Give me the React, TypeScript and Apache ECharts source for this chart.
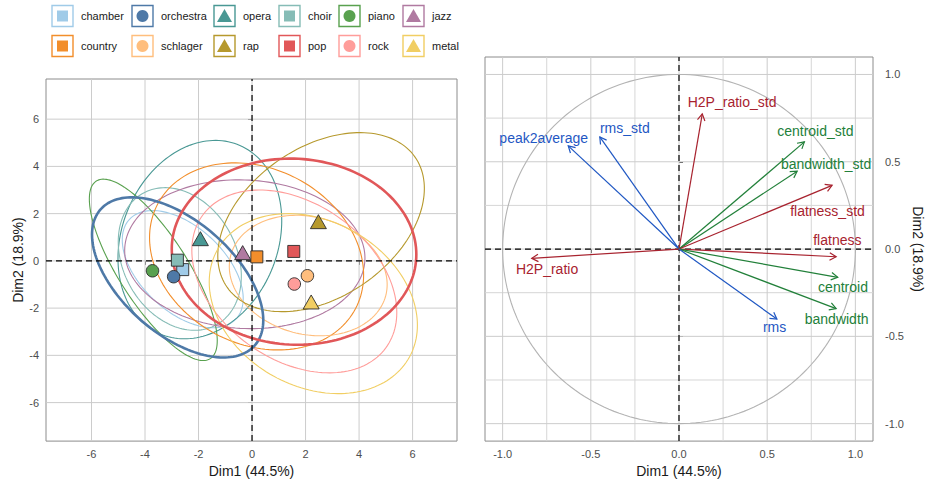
import React, { useEffect, useRef } from 'react';
import * as echarts from 'echarts';

// ---------- Individuals (left panel) ----------
const genres = ['chamber', 'orchestra', 'opera', 'choir', 'piano', 'jazz', 'country', 'schlager', 'rap', 'pop', 'rock', 'metal'];
const genreColors = ['#A0CBE8', '#4E79A7', '#499894', '#86BCB6', '#59A14F', '#B07AA1', '#F28E2B', '#FFBE7D', '#B6992D', '#E15759', '#FF9D9A', '#F1CE63'];
const genreShapes = ['rect', 'circle', 'triangle', 'rect', 'circle', 'triangle', 'rect', 'circle', 'triangle', 'rect', 'circle', 'triangle'];
const meanDim1 = [-2.59, -2.93, -1.93, -2.79, -3.72, -0.35, 0.18, 2.07, 2.48, 1.56, 1.58, 2.21];
const meanDim2 = [-0.37, -0.67, 0.94, 0.03, -0.42, 0.35, 0.17, -0.63, 1.66, 0.40, -0.98, -1.74];
// ellipse: centre, half-extent along Dim1, half-extent along Dim2, correlation
const ellCx = [-2.59, -2.78, -1.95, -2.70, -3.69, -0.27, 0.17, 2.10, 2.58, 1.57, 1.58, 2.29];
const ellCy = [-0.35, -0.70, 0.90, 0.08, -0.38, 0.28, 0.19, -0.62, 1.64, 0.39, -0.87, -1.81];
const ellRx = [2.26, 3.20, 3.06, 2.30, 2.39, 4.49, 4.00, 2.95, 3.86, 4.57, 3.83, 3.89];
const ellRy = [2.48, 3.39, 4.20, 3.02, 3.84, 3.15, 3.96, 2.55, 3.79, 3.94, 3.87, 3.81];
const ellRho = [-0.50, -0.535, 0.19, -0.24, -0.78, -0.05, -0.20, -0.15, 0.376, -0.03, -0.34, -0.24];
const thickGenres = ['orchestra', 'pop'];
const leftTicks = [-6, -4, -2, 0, 2, 4, 6];
const leftXRange = [-7.7, 7.66];
const leftYRange = [-7.63, 7.7];

// ---------- Variables (right panel) ----------
const varNames = ['peak2average', 'rms_std', 'H2P_ratio', 'H2P_ratio_std', 'centroid_std', 'bandwidth_std', 'flatness_std', 'flatness', 'centroid', 'bandwidth', 'rms'];
const varDim1 = [-0.628, -0.449, -0.835, 0.132, 0.711, 0.670, 0.868, 0.891, 0.900, 0.891, 0.555];
const varDim2 = [0.591, 0.642, -0.053, 0.774, 0.614, 0.446, 0.365, -0.044, -0.162, -0.341, -0.401];
const varGroup = ['blue', 'blue', 'red', 'red', 'green', 'green', 'red', 'red', 'green', 'green', 'blue'];
const varLabelX = [-0.767, -0.307, -0.748, 0.301, 0.773, 0.834, 0.842, 0.898, 0.930, 0.894, 0.542];
const varLabelY = [0.638, 0.691, -0.115, 0.845, 0.676, 0.488, 0.218, 0.049, -0.219, -0.403, -0.445];
const rightTicks = [-1, -0.5, 0, 0.5, 1];
const rightMinorTicks = [-0.75, -0.25, 0.25, 0.75];
const rightRange = [-1.1, 1.1];

const groupColors: Record<string, string> = { blue: '#1F57C3', red: '#A8232F', green: '#22803A' };
const FONT = '"Liberation Sans", Arial, Helvetica, sans-serif';

// custom series drawing full-panel reference lines at given values
function refLineSeries(xi: number, values: number[], xr: number[], yr: number[], style: any, z: number) {
  const items: number[][] = [];
  values.forEach((v) => { items.push([v, yr[0], v, yr[1]]); items.push([xr[0], v, xr[1], v]); });
  return {
    type: 'custom', xAxisIndex: xi, yAxisIndex: xi, z, silent: true,
    encode: { x: [0, 2], y: [1, 3] },
    data: items,
    renderItem: (params: any, api: any) => {
      const a = api.coord([api.value(0), api.value(1)]);
      const b = api.coord([api.value(2), api.value(3)]);
      return { type: 'line', shape: { x1: a[0], y1: a[1], x2: b[0], y2: b[1] }, style: { ...style, fill: 'none' } };
    },
  };
}

function buildLegend() {
  const colX = [52, 132, 214, 279, 339, 403];
  const rowY = [16, 46];
  const els: any[] = [];
  genres.forEach((g, i) => {
    const x = colX[i % 6];
    const cy = rowY[Math.floor(i / 6)];
    const cx = x + 10.5;
    const color = genreColors[i];
    els.push({ type: 'rect', shape: { x, y: cy - 10.5, width: 21, height: 21 }, style: { fill: '#fff', stroke: color, lineWidth: 1.4 } });
    const shp = genreShapes[i];
    if (shp === 'rect') {
      els.push({ type: 'rect', shape: { x: cx - 5.5, y: cy - 5.5, width: 11, height: 11 }, style: { fill: color } });
    } else if (shp === 'circle') {
      els.push({ type: 'circle', shape: { cx, cy, r: 6 }, style: { fill: color } });
    } else {
      els.push({ type: 'polygon', shape: { points: [[cx, cy - 7], [cx - 7.5, cy + 6], [cx + 7.5, cy + 6]] }, style: { fill: color } });
    }
    els.push({ type: 'text', style: { text: g, x: x + 29, y: cy, fill: '#1a1a1a', font: `11px ${FONT}`, align: 'left', verticalAlign: 'middle' } });
  });
  return els;
}

const axisLabelBase = { color: '#4d4d4d', fontSize: 11, fontFamily: FONT };
const nameStyle = { color: '#1a1a1a', fontSize: 14, fontFamily: FONT };

export default function App() {
  const ref = useRef<HTMLDivElement>(null);
  useEffect(() => {
    if (!ref.current) return;
    const chart = echarts.init(ref.current, undefined, { renderer: 'svg' });
    const option: any = {
      animation: false,
      textStyle: { fontFamily: FONT },
      graphic: buildLegend(),
      grid: [
        { left: 46, top: 79, width: 411, height: 365, show: true, borderColor: '#8c8c8c', borderWidth: 1 },
        { left: 485, top: 57, width: 388, height: 387, show: true, borderColor: '#8c8c8c', borderWidth: 1 },
      ],
      xAxis: [
        {
          gridIndex: 0, type: 'value', min: leftXRange[0], max: leftXRange[1],
          axisLine: { show: false }, splitLine: { show: false },
          axisTick: { show: true, length: 4, lineStyle: { color: '#555' }, customValues: leftTicks },
          axisLabel: { ...axisLabelBase, margin: 7, customValues: leftTicks, formatter: (v: number) => String(v) },
          name: 'Dim1 (44.5%)', nameLocation: 'middle', nameGap: 20, nameTextStyle: nameStyle,
        },
        {
          gridIndex: 1, type: 'value', min: rightRange[0], max: rightRange[1],
          axisLine: { show: false }, splitLine: { show: false },
          axisTick: { show: true, length: 4, lineStyle: { color: '#555' }, customValues: rightTicks },
          axisLabel: { ...axisLabelBase, margin: 7, customValues: rightTicks, formatter: (v: number) => v.toFixed(1) },
          name: 'Dim1 (44.5%)', nameLocation: 'middle', nameGap: 20, nameTextStyle: nameStyle,
        },
      ],
      yAxis: [
        {
          gridIndex: 0, type: 'value', min: leftYRange[0], max: leftYRange[1],
          axisLine: { show: false }, splitLine: { show: false },
          axisTick: { show: true, length: 4, lineStyle: { color: '#555' }, customValues: leftTicks },
          axisLabel: { ...axisLabelBase, margin: 7, customValues: leftTicks, formatter: (v: number) => String(v) },
          name: 'Dim2 (18.9%)', nameLocation: 'middle', nameGap: 20, nameRotate: 90, nameTextStyle: nameStyle,
        },
        {
          gridIndex: 1, type: 'value', min: rightRange[0], max: rightRange[1], position: 'right',
          axisLine: { show: false }, splitLine: { show: false },
          axisTick: { show: true, length: 4, lineStyle: { color: '#555' }, customValues: rightTicks },
          axisLabel: { ...axisLabelBase, margin: 12, customValues: rightTicks, formatter: (v: number) => v.toFixed(1) },
          name: 'Dim2 (18.9%)', nameLocation: 'middle', nameGap: 38, nameRotate: -90, nameTextStyle: nameStyle,
        },
      ],
      series: [
        // left grid lines
        refLineSeries(0, leftTicks, leftXRange, leftYRange, { stroke: '#cccccc', lineWidth: 1 }, 2),
        // ellipses
        {
          type: 'custom', xAxisIndex: 0, yAxisIndex: 0, z: 2, silent: true,
          data: genres.map((g, i) => [ellCx[i], ellCy[i], ellRx[i], ellRy[i], ellRho[i]]),
          renderItem: (params: any, api: any) => {
            const i = params.dataIndex;
            const cx = api.value(0), cy = api.value(1), rx = api.value(2), ry = api.value(3), rho = api.value(4);
            const s = Math.sqrt(1 - rho * rho);
            const pts: number[][] = [];
            const n = 160;
            for (let k = 0; k < n; k++) {
              const t = (k / n) * Math.PI * 2;
              pts.push(api.coord([cx + rx * Math.cos(t), cy + ry * (rho * Math.cos(t) + s * Math.sin(t))]));
            }
            const thick = thickGenres.includes(genres[i]);
            return {
              type: 'polygon', shape: { points: pts }, z2: thick ? 20 : 1 + i,
              style: { fill: 'none', stroke: genreColors[i], lineWidth: thick ? 2.6 : 1.1 },
            };
          },
        },
        // left zero lines
        refLineSeries(0, [0], leftXRange, leftYRange, { stroke: '#000', lineWidth: 1.2, lineDash: [6, 4] }, 3),
        // group means
        {
          type: 'scatter', xAxisIndex: 0, yAxisIndex: 0, z: 4, silent: true,
          data: genres.map((g, i) => ({
            name: g,
            value: [meanDim1[i], meanDim2[i]],
            symbol: genreShapes[i],
            symbolSize: genreShapes[i] === 'triangle' ? [16, 14] : genreShapes[i] === 'rect' ? 12 : 12.5,
            itemStyle: { color: genreColors[i], borderColor: '#2b2b2b', borderWidth: 0.9, opacity: 1 },
          })),
        },
        // right grid lines
        refLineSeries(1, rightMinorTicks, rightRange, rightRange, { stroke: '#d6d6d6', lineWidth: 1 }, 2),
        refLineSeries(1, rightTicks, rightRange, rightRange, { stroke: '#cccccc', lineWidth: 1 }, 2),
        // right zero lines
        refLineSeries(1, [0], rightRange, rightRange, { stroke: '#000', lineWidth: 1.2, lineDash: [6, 4] }, 2),
        // correlation circle
        {
          type: 'custom', xAxisIndex: 1, yAxisIndex: 1, z: 2, silent: true,
          data: [[0, 0, 1]],
          renderItem: (params: any, api: any) => {
            const cx = api.value(0), cy = api.value(1), r = api.value(2);
            const pts: number[][] = [];
            const n = 200;
            for (let k = 0; k < n; k++) {
              const t = (k / n) * Math.PI * 2;
              pts.push(api.coord([cx + r * Math.cos(t), cy + r * Math.sin(t)]));
            }
            return { type: 'polygon', shape: { points: pts }, style: { fill: 'none', stroke: '#b3b3b3', lineWidth: 1.1 } };
          },
        },
        // arrows
        {
          type: 'custom', xAxisIndex: 1, yAxisIndex: 1, z: 3, silent: true,
          data: varNames.map((v, i) => [varDim1[i], varDim2[i]]),
          renderItem: (params: any, api: any) => {
            const i = params.dataIndex;
            const o = api.coord([0, 0]);
            const p = api.coord([api.value(0), api.value(1)]);
            const ang = Math.atan2(p[1] - o[1], p[0] - o[0]);
            const L = 7.5, a = Math.PI / 6;
            const h1 = [p[0] - L * Math.cos(ang - a), p[1] - L * Math.sin(ang - a)];
            const h2 = [p[0] - L * Math.cos(ang + a), p[1] - L * Math.sin(ang + a)];
            const color = groupColors[varGroup[i]];
            return {
              type: 'group',
              children: [
                { type: 'line', shape: { x1: o[0], y1: o[1], x2: p[0], y2: p[1] }, style: { stroke: color, lineWidth: 1.2 } },
                { type: 'polyline', shape: { points: [h1, p, h2] }, style: { stroke: color, lineWidth: 1.2, fill: 'none' } },
              ],
            };
          },
        },
        // variable labels
        {
          type: 'custom', xAxisIndex: 1, yAxisIndex: 1, z: 4, silent: true,
          data: varNames.map((v, i) => [varLabelX[i], varLabelY[i]]),
          renderItem: (params: any, api: any) => {
            const i = params.dataIndex;
            const p = api.coord([api.value(0), api.value(1)]);
            return {
              type: 'text',
              style: { text: varNames[i], x: p[0], y: p[1], fill: groupColors[varGroup[i]], font: `14px ${FONT}`, align: 'center', verticalAlign: 'middle' },
            };
          },
        },
      ],
    };
    chart.setOption(option);
    return () => chart.dispose();
  }, []);
  return <div ref={ref} style={{ position: 'fixed', left: 0, top: 0, width: 926, height: 483, background: '#fff' }} />;
}
